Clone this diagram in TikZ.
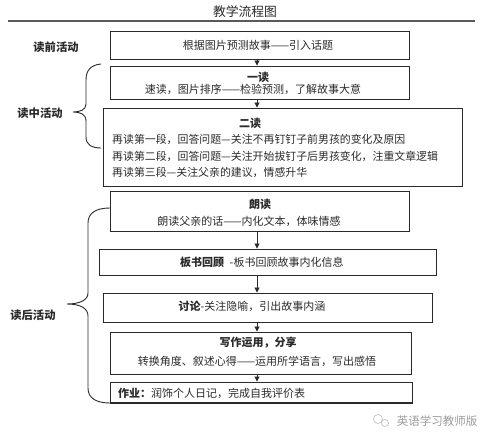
\documentclass[tikz,border=0pt]{standalone}
\usepackage{fontspec}
\setmainfont{Noto Sans CJK SC}
\usetikzlibrary{arrows.meta}
\definecolor{ink}{HTML}{2A2A2A}
\definecolor{wm}{HTML}{9A9A9A}
\tikzset{
  box/.style={draw=ink, line width=0.9pt, inner sep=0pt, rectangle},
  txt/.style={inner sep=0pt, text=ink, font=\fontsize{11pt}{12pt}\selectfont},
  wide/.style={inner sep=0pt, text=ink, font=\fontsize{10.9pt}{12pt}\selectfont},
  head/.style={inner sep=0pt, text=ink, font=\fontsize{11pt}{12pt}\selectfont\bfseries},
  lab/.style={inner sep=0pt, text=ink, font=\fontsize{11.3pt}{12pt}\selectfont\bfseries},
  arr/.style={draw=ink, line width=0.9pt, -{Triangle[width=5pt,length=5pt]}},
  brace/.style={draw=ink, line width=0.9pt}
}
\begin{document}
\begin{tikzpicture}[x=1pt,y=-1pt]
\useasboundingbox (0,0) rectangle (495,443);
% title
\node[inner sep=0pt, text=ink, font=\fontsize{12.8pt}{14pt}\selectfont] (title) at (245,12) {教学流程图};
\coordinate (rl) at (8,21);
\coordinate (rr) at (475,21);
\draw[draw=gray!70!black, line width=1.1pt] (rl) -- (rr);
% boxes
\node[box, minimum width=299pt, minimum height=28pt] (b1) at (259.5,45) {};
\node[box, minimum width=299pt, minimum height=33pt] (b2) at (259.5,82.5) {};
\node[box, minimum width=359pt, minimum height=78pt] (b3) at (282.5,147) {};
\node[box, minimum width=299pt, minimum height=40pt] (b4) at (259.5,211) {};
\node[box, minimum width=337pt, minimum height=26pt] (b5) at (267.5,262) {};
\node[box, minimum width=329pt, minimum height=29pt] (b6) at (267.5,307.5) {};
\node[box, minimum width=301pt, minimum height=42pt] (b7) at (260.5,353) {};
\node[box, minimum width=302pt, minimum height=21pt] (b8) at (261,392.5) {};
\coordinate (bl) at (110,403);
\coordinate (br) at (413,403);
\draw[draw=ink, line width=2pt] (bl) -- (br);
% texts
\node[txt] (t1) at (258,45) {根据图片预测故事——引入话题};
\node[head] (t2a) at (258,77) {一读};
\node[txt] (t2b) at (253,89.5) {速读，图片排序——检验预测，了解故事大意};
\node[head] (t3a) at (250,123) {二读};
\node[wide, anchor=west] (t3b) at (112,139) {再读第一段，回答问题—关注不再钉钉子前男孩的变化及原因};
\node[wide, anchor=west] (t3c) at (112,156) {再读第二段，回答问题—关注开始拔钉子后男孩变化，注重文章逻辑};
\node[wide, anchor=west] (t3d) at (112,172) {再读第三段—关注父亲的建议，情感升华};
\node[head] (t4a) at (260,204) {朗读};
\node[txt] (t4b) at (249,221) {朗读父亲的话——内化文本，体味情感};
\node[txt, anchor=west] (t5) at (180,262) {\textbf{板书回顾}\enspace-板书回顾故事内化信息};
\node[txt] (t6) at (252,306) {\textbf{讨论}-关注隐喻，引出故事内涵};
\node[head] (t7a) at (258,343) {写作运用，分享};
\node[txt] (t7b) at (257,361) {转换角度、叙述心得——运用所学语言，写出感悟};
\node[txt, anchor=west] (t8) at (118,393.5) {\textbf{作业：}润饰个人日记，完成自我评价表};
% arrows
\coordinate (ax) at (257,0);
\draw[arr] (b1.south -| ax) -- (b2.north -| ax);
\draw[arr] (b2.south -| ax) -- (b3.north -| ax);
\draw[arr] (b4.south -| ax) -- (b5.north -| ax);
\draw[arr] (b5.south -| ax) -- (b6.north -| ax);
\draw[arr] (b6.south -| ax) -- (b7.north -| ax);
\draw[arr] (b7.south -| ax) -- (b8.north -| ax);
% labels
\node[lab] (l1) at (56,47) {读前活动};
\node[lab] (l2) at (40,113) {读中活动};
\node[lab] (l3) at (33,315) {读后活动};
% braces
\coordinate (p1) at (101,64);
\coordinate (p2) at (73,112);
\coordinate (p3) at (101,148);
\draw[brace] (p1) .. controls (91,65) and (86,70) .. (86,80) -- (86,104)
  .. controls (86,110) and (80,112) .. (p2)
  .. controls (80,112) and (86,114) .. (86,121) -- (86,137)
  .. controls (86,145) and (92,148) .. (p3);
\coordinate (q1) at (110,208);
\coordinate (q2) at (67,304);
\coordinate (q3) at (110,403);
\draw[brace] (q1) .. controls (96,208) and (88,213) .. (88,223) -- (88,293)
  .. controls (88,300) and (80,304) .. (q2)
  .. controls (80,304) and (88,308) .. (88,316) -- (88,388)
  .. controls (88,398) and (96,403) .. (q3);
% watermark
\node[inner sep=0pt, text=wm, font=\fontsize{11.5pt}{12pt}\selectfont] (wmk) at (437,421) {英语学习教师版};
\node[draw=wm!60, line width=0.7pt, circle, minimum size=9pt, inner sep=0pt] (ic1) at (378,419) {};
\node[draw=wm!60, line width=0.7pt, circle, minimum size=7pt, inner sep=0pt] (ic2) at (385,423) {};
\end{tikzpicture}
\end{document}
